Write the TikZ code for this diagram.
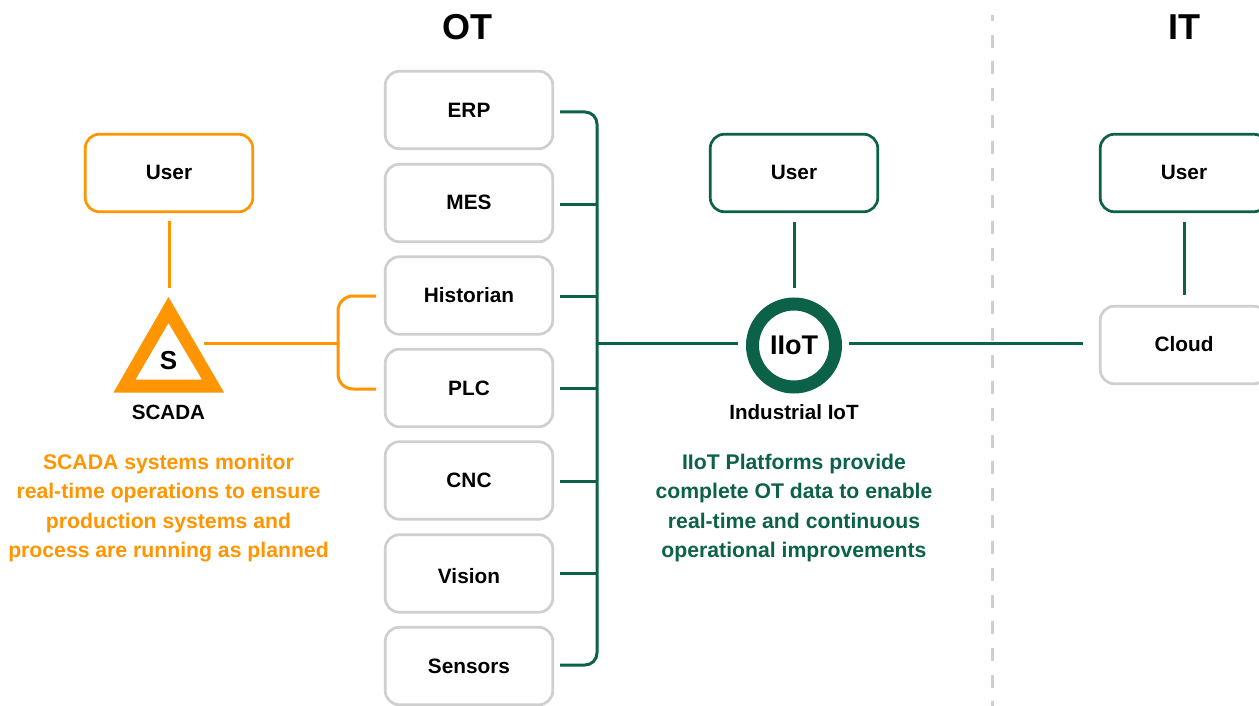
\documentclass[tikz,border=0pt]{standalone}
\usepackage{fontspec}
\setmainfont{Liberation Sans}[BoldFont={Liberation Sans Bold}]
\usetikzlibrary{calc}
\definecolor{gn}{HTML}{0C6248}
\definecolor{og}{HTML}{FF9500}
\definecolor{gr}{HTML}{CFCFCF}
\newcommand{\upone}[1]{\raisebox{0pt}[13pt][0pt]{#1}}
\tikzset{
  x=1pt,y=-1pt,
  box/.style={draw=#1,line width=2.7pt,rounded corners=14pt,minimum width=167.5pt,minimum height=77.5pt,inner sep=0pt,fill=white,font=\fontsize{20.8}{24}\selectfont\bfseries,text=black},
  box/.default=gr,
  gline/.style={draw=gn,line width=3pt},
  oline/.style={draw=og,line width=3pt},
  head/.style={font=\fontsize{36}{42}\selectfont\bfseries,inner sep=0pt},
  lab/.style={font=\fontsize{20.6}{24}\selectfont\bfseries,inner sep=0pt},
  para/.style={font=\fontsize{21.2}{29.3}\selectfont\bfseries,align=center,inner sep=0pt},
}
\begin{document}
\begin{tikzpicture}
\useasboundingbox (0,0) rectangle (1259,706);
\fill[white] (0,0) rectangle (1259,706);
% divider
\coordinate (dtop) at (992,15);
\coordinate (dbot) at (992,706);
\draw[gr,line width=3pt,dash pattern=on 13pt off 13.67pt,dash phase=7pt] (dtop) -- (dbot);
% headings
\node[head] (ot) at (467,27) {OT};
\node[head] (it) at (1184.5,27) {IT};
% OT boxes
\node[box] (erp) at (469,110) {ERP};
\node[box] (mes) at (469,203) {\upone{MES}};
\node[box] (his) at (469,295.5) {Historian};
\node[box] (plc) at (469,388) {PLC};
\node[box] (cnc) at (469,480.5) {CNC};
\node[box] (vis) at (469,573.5) {\raisebox{0pt}[20pt][0pt]{Vision}};
\node[box] (sen) at (469,666) {Sensors};
% user boxes
\node[box=og] (uo) at (169,173) {\upone{User}};
\node[box=gn] (um) at (794,173) {\upone{User}};
\node[box=gn] (ui) at (1184,173) {\upone{User}};
\node[box] (cl) at (1184,345) {\upone{Cloud}};
% SCADA triangle
\coordinate (tA) at (168.5,297);
\coordinate (tB) at (224,392.5);
\coordinate (tC) at (113.5,392.5);
\fill[og,even odd rule] (tA) -- (tB) -- (tC) -- cycle (168.5,323) -- (202,379.5) -- (135.5,379.5) -- cycle;
\node[font=\fontsize{26}{30}\selectfont\bfseries,inner sep=0pt] (s) at (168.5,361) {S};
\node[lab] (sc) at (168.5,412) {SCADA};
% IIoT
\node[circle,draw=gn,line width=13pt,minimum size=83pt,inner sep=0pt,font=\fontsize{27}{30}\selectfont\bfseries] (ii) at (794,345.5) {IIoT};
\node[lab] (il) at (794,412) {Industrial IoT};
% orange connectors
\coordinate (obr) at (338,343);
\coordinate (tr) at (204,343);
\coordinate (oe) at (169,288);
\draw[oline] (uo.south) ++(0,8) -- (oe);
\draw[oline] (tr) -- (obr);
\coordinate (oh) at (376,296);
\coordinate (op) at (376,389);
\draw[oline,rounded corners=15pt] (oh) -| (338,389) -- (op);
% green connectors
\coordinate (g1) at (560,112);
\coordinate (g7) at (560,665);
\draw[gline,rounded corners=12pt] (g1) -| (597,665) -- (g7);
\foreach \y in {204,296,388,481,573}{\draw[gline] (560,\y) -- (597,\y);}
\coordinate (busm) at (597,343);
\draw[gline] (busm) -- ($(ii.center)+(-56,-2.5)$);
\draw[gline] ($(ii.center)+(55,-2.5)$) -- ($(cl.west)+(-15.5,-2)$);
\draw[gline] ($(um.south)+(0,9)$) -- ($(ii.north)+(0,-9.5)$);
\draw[gline] ($(ui.south)+(0,9)$) -- ($(cl.north)+(0,-10)$);
% paragraphs
\node[para,text=og] (pa) at (168.5,508) {SCADA systems monitor\\real-time operations to ensure\\production systems and\\process are running as planned};
\node[para,text=gn] (pb) at (794,508) {IIoT Platforms provide\\complete OT data to enable\\real-time and continuous\\operational improvements};
\end{tikzpicture}
\end{document}
